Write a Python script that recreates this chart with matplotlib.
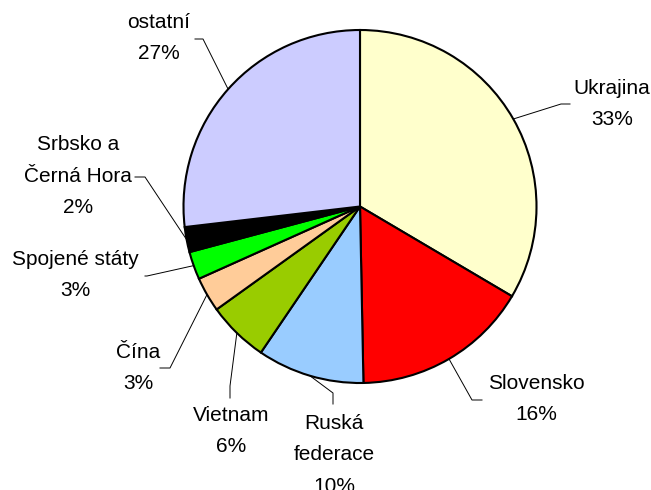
import numpy as np
import matplotlib.pyplot as plt

plt.rcParams['font.family'] = ['Liberation Sans', 'DejaVu Sans']

# shares of the total (percent), clockwise from 12 o'clock
labels = ['Ukrajina', 'Slovensko', 'Ruská\nfederace', 'Vietnam', 'Čína',
          'Spojené státy', 'Srbsko a\nČerná Hora', 'ostatní']
shares = [33.49, 16.2, 9.8, 5.6, 3.2, 2.55, 2.3, 26.86]
colors = ['#FFFFCC', '#FF0000', '#99CCFF', '#99CC00', '#FFCC99',
          '#00FF00', '#000000', '#CCCCFF']

# label layout in pixels: text centre, elbow point, end of leader
W, H = 651, 490
cx, cy, R = 360, 206.5, 176.5
label_pos = [(612, 104), (536, 399), (334, 455), (231, 431), (138, 368),
             (75, 275), (78, 176), (159, 38)]
elbows = [(561, 104), (472, 400), (333, 393), (230, 386), (170, 368),
          (147, 276), (145, 177), (203, 39)]
ends = [(570, 104), (482, 400), (333, 404), (230, 398), (160, 368),
        (145, 276), (135, 177), (195, 39)]


def px(p):
    return ((p[0] - cx) / R, (cy - p[1]) / R)


fig = plt.figure(figsize=(W / 100, H / 100), dpi=100)
ax = fig.add_axes([0, 0, 1, 1])

wedges, _ = ax.pie(shares, colors=colors, startangle=90, counterclock=False,
                   radius=1, wedgeprops=dict(edgecolor='black', linewidth=1.5))
ax.set_xlim(-cx / R, (W - cx) / R)
ax.set_ylim(-(H - cy) / R, cy / R)
ax.axis('off')

for w, lab, val, tp, el, en in zip(wedges, labels, shares, label_pos, elbows, ends):
    mid = np.deg2rad((w.theta1 + w.theta2) / 2)
    edge = (np.cos(mid), np.sin(mid))
    e1, e2 = px(el), px(en)
    ax.plot([edge[0], e1[0], e2[0]], [edge[1], e1[1], e2[1]],
            color='black', linewidth=0.7)
    tx, ty = px(tp)
    ax.text(tx, ty, f'{lab}\n{val:.0f}%', ha='center', va='center',
            fontsize=15, linespacing=1.85)

fig.savefig('out.png', dpi=100)
